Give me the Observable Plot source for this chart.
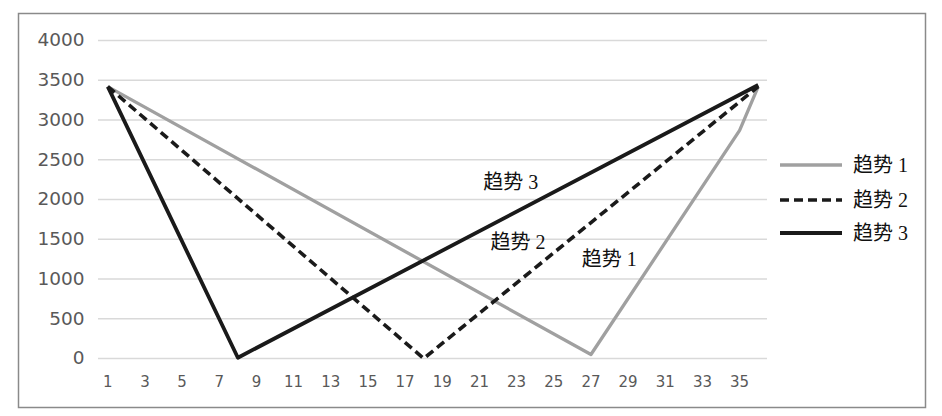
<!DOCTYPE html>
<html><head><meta charset="utf-8">
<script src="https://cdn.jsdelivr.net/npm/d3@7"></script>
<script src="https://cdn.jsdelivr.net/npm/@observablehq/plot@0.6"></script>
<style>body{margin:0;background:#fff}#chart{position:relative;width:942px;height:416px}</style>
</head><body><div id="chart"></div>
<script>
const seriesNames = ["趋势 1", "趋势 2", "趋势 3"];
const trend1X = [1, 27, 35, 36];
const trend1Y = [3420, 50, 2870, 3420];
const trend2X = [1, 18, 36];
const trend2Y = [3420, 0, 3420];
const trend3X = [1, 8, 36];
const trend3Y = [3420, 10, 3440];
const xTicks = [1, 3, 5, 7, 9, 11, 13, 15, 17, 19, 21, 23, 25, 27, 29, 31, 33, 35];
const yTicks = [0, 500, 1000, 1500, 2000, 2500, 3000, 3500, 4000];
const labelX = [26.5, 21.6, 21.2];
const labelY = [1250, 1460, 2210];

const colors = ["#a0a0a0", "#1a1a1a", "#1a1a1a"];
const widths = [3.3, 3.6, 3.8];
const dashes = [null, "9,5", null];
const cjk = "'Liberation Serif','Noto Sans CJK SC',serif";

const toPts = (xs, ys) => xs.map((x, i) => ({x, y: ys[i]}));
const series = [toPts(trend1X, trend1Y), toPts(trend2X, trend2Y), toPts(trend3X, trend3Y)];
const labels = seriesNames.map((name, i) => ({name, x: labelX[i], y: labelY[i]}));

const svg = Plot.plot({
  width: 942, height: 416,
  marginLeft: 98, marginRight: 175, marginTop: 40, marginBottom: 58,
  style: {fontFamily: "'DejaVu Sans', sans-serif", background: "#fff"},
  x: {domain: [0.5, 36.5], label: null},
  y: {domain: [0, 4000], label: null},
  marks: [
    Plot.ruleY(yTicks, {stroke: "#d9d9d9", strokeWidth: 1.3}),
    Plot.axisY(yTicks, {tickSize: 0, tickPadding: 14, fontSize: 18.5, color: "#595959", label: null, tickFormat: d => String(d)}),
    Plot.axisX(xTicks, {tickSize: 0, tickPadding: 18, fontSize: 15, color: "#595959", label: null, tickFormat: d => String(d)}),
    ...series.map((pts, i) => Plot.line(pts, {x: "x", y: "y", stroke: colors[i], strokeWidth: widths[i], strokeDasharray: dashes[i], strokeLinecap: "butt"})),
    Plot.text(labels, {x: "x", y: "y", text: "name", textAnchor: "start", fontSize: 20, fontFamily: cjk, fill: "#111"})
  ]
});

const s = d3.select(svg);
s.append("rect").attr("x", 18.5).attr("y", 13.5).attr("width", 907).attr("height", 394)
  .attr("fill", "none").attr("stroke", "#8a8a8a").attr("stroke-width", 1.5);
const legY = [165, 200, 233];
const lg = s.append("g").attr("text-anchor", "start");
seriesNames.forEach((name, i) => {
  lg.append("line").attr("x1", 780).attr("x2", 842).attr("y1", legY[i]).attr("y2", legY[i])
    .attr("stroke", colors[i]).attr("stroke-width", widths[i]).attr("stroke-dasharray", dashes[i]);
  lg.append("text").attr("x", 853).attr("y", legY[i]).attr("dy", "0.35em").attr("text-anchor", "start")
    .attr("font-size", 20).attr("font-family", cjk).attr("fill", "#111").text(name);
});
document.getElementById("chart").appendChild(svg);
</script>
</body></html>
